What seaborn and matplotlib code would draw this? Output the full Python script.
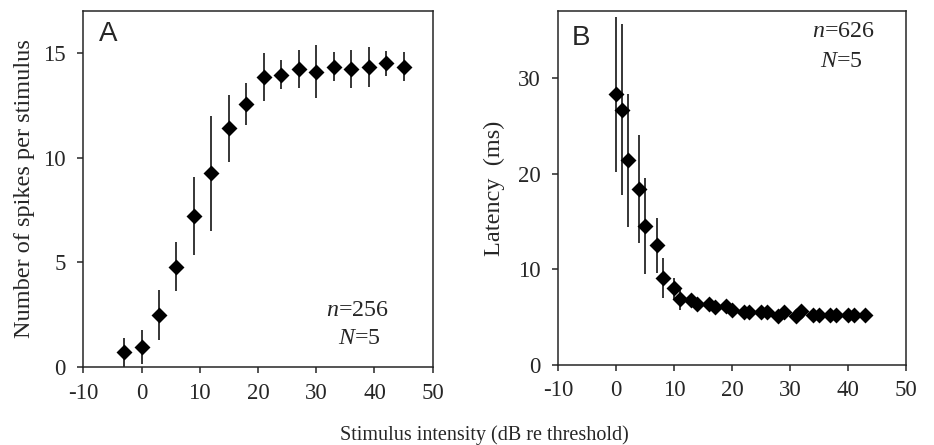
import matplotlib
matplotlib.use('Agg')

import pandas as pd
import numpy as np
import matplotlib.pyplot as plt
import seaborn as sns

# panel A: spike count vs intensity
a_x = [-3, 0, 3, 6, 9, 12, 15, 18, 21, 24, 27, 30, 33, 36, 39, 42, 45]
a_y = [0.72, 0.98, 2.49, 4.80, 7.21, 9.25, 11.4, 12.54, 13.83, 13.95,
       14.22, 14.1, 14.33, 14.22, 14.33, 14.5, 14.33]
a_err = [0.7, 0.8, 1.2, 1.15, 1.85, 2.75, 1.6, 1.0, 1.15, 0.7,
         0.9, 1.27, 0.7, 0.9, 0.95, 0.6, 0.7]

# panel B: latency vs intensity
b_x = [0, 1, 2, 4, 5, 7, 8, 10, 11, 13, 14, 16, 17, 19, 20, 22, 23,
       25, 26, 28, 29, 31, 32, 34, 35, 37, 38, 40, 41, 43]
b_y = [28.3, 26.7, 21.4, 18.4, 14.5, 12.5, 9.1, 8.0, 6.9, 6.8, 6.4, 6.4,
       6.1, 6.2, 5.8, 5.5, 5.5, 5.5, 5.5, 5.1, 5.5, 5.1, 5.6, 5.2, 5.2,
       5.2, 5.2, 5.2, 5.2, 5.2]
b_err = [8.1, 8.9, 6.95, 5.6, 5.0, 2.9, 2.1, 1.1, 1.1, 0.4, 0.4, 0.4,
         0.4, 0.4, 0.4, 0.3, 0.3, 0.3, 0.3, 0.3, 0.3, 0.3, 0.3, 0.3, 0.3,
         0.3, 0.3, 0.3, 0.3, 0.3]

x_ticks = [-10, 0, 10, 20, 30, 40, 50]
x_labels = ['-10', '0', '10', '20', '30', '40', '50']

sns.set_style('ticks')
plt.rcParams['font.family'] = ['Liberation Serif', 'DejaVu Serif']
plt.rcParams['mathtext.fontset'] = 'custom'
plt.rcParams['mathtext.rm'] = 'Liberation Serif'
plt.rcParams['mathtext.it'] = 'Liberation Serif:italic'
plt.rcParams['axes.linewidth'] = 1.1

fig = plt.figure(figsize=(9.34, 4.45), dpi=100)
axA = fig.add_axes([83.3 / 934, 1 - 367.3 / 445, 349.4 / 934, 356.6 / 445])
axB = fig.add_axes([558.3 / 934, 1 - 365 / 445, 347.4 / 934, 354 / 445])

dfA = pd.DataFrame({'x': a_x, 'y': a_y})
dfB = pd.DataFrame({'x': b_x, 'y': b_y})

for ax, df, err in [(axA, dfA, a_err), (axB, dfB, b_err)]:
    ax.errorbar(df['x'], df['y'], yerr=err, fmt='none', ecolor='black',
                elinewidth=1.1, capsize=0, zorder=2)
    sns.scatterplot(data=df, x='x', y='y', marker='D', s=66, color='black',
                    edgecolor='black', linewidth=0, ax=ax, zorder=3)
    ax.set_xlim(-10, 50)
    ax.set_xticks(x_ticks)
    ax.set_xticklabels(x_labels)
    ax.tick_params(labelsize=16.5, length=4, width=1.1, direction='out',
                   top=False, right=False)
    ax.tick_params(axis='x', pad=7)
    ax.tick_params(axis='y', pad=8.5)
    ax.set_xlabel('')
    for sp in ax.spines.values():
        sp.set_visible(True)
        sp.set_linewidth(1.1)

axA.set_ylim(0, 17)
axA.set_yticks([0, 5, 10, 15])
axA.set_ylabel('Number of spikes per stimulus', fontsize=17.5)
axA.yaxis.set_label_coords(-0.138, 0.5)
axB.set_ylim(0, 37)
axB.set_yticks([0, 10, 20, 30])
axB.set_ylabel('Latency  (ms)', fontsize=17.5)
axB.yaxis.set_label_coords(-0.153, 0.5)

axA.text(0.045, 0.935, 'A', transform=axA.transAxes, fontsize=20,
         family='Liberation Sans', va='center', ha='left')
axB.text(0.04, 0.925, 'B', transform=axB.transAxes, fontsize=20,
         family='Liberation Sans', va='center', ha='left')

axA.text(0.785, 0.16, '$n$=256', transform=axA.transAxes,
         fontsize=17.3, ha='center', va='center')
axA.text(0.79, 0.082, '$N$=5', transform=axA.transAxes,
         fontsize=17.3, ha='center', va='center')
axB.text(0.82, 0.941, '$n$=626', transform=axB.transAxes,
         fontsize=17.3, ha='center', va='center')
axB.text(0.815, 0.856, '$N$=5', transform=axB.transAxes,
         fontsize=17.3, ha='center', va='center')

fig.text(484 / 934, 0.022, 'Stimulus intensity (dB re threshold)',
         fontsize=14.5, ha='center', va='center')

fig.savefig('out.png', dpi=100)
